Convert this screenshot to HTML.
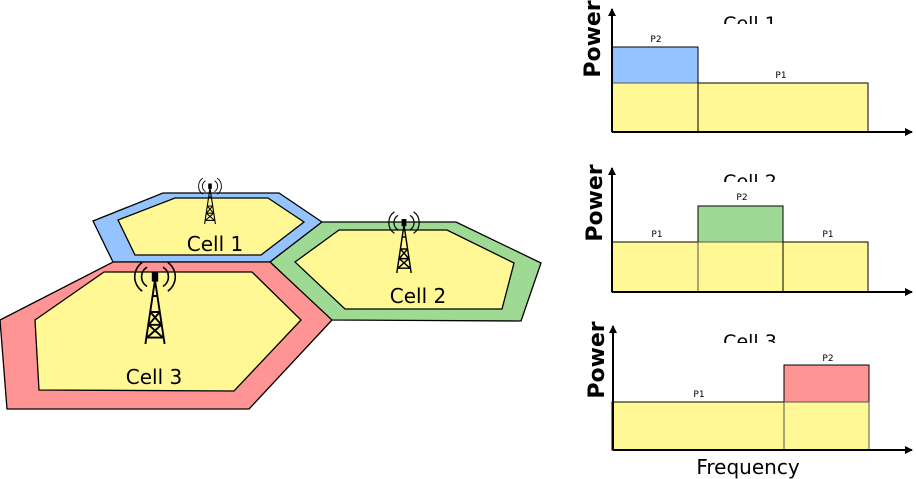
<!DOCTYPE html><html><head><style>body{margin:0;background:#fff}svg{display:block}text{font-family:"DejaVu Sans","Liberation Sans",sans-serif}</style></head><body>
<svg width="916" height="479" viewBox="0 0 916 479" xmlns="http://www.w3.org/2000/svg">
<defs>
<marker id="ar" markerWidth="8" markerHeight="8" refX="7" refY="4" orient="auto" markerUnits="userSpaceOnUse"><path d="M0,0L8,4L0,8z" fill="#000"/></marker>
<g id="tw">
<path d="M-6,40 L0,0 L6,40 M-3,20 L3,20 M-4,28 L4,28 M-5,36 L5,36 M-2,10 L2,10 M-3,20 L4,28 M3,20 L-4,28 M-4,28 L5,36 M4,28 L-5,36" stroke="#000" stroke-width="1.2" fill="none"/>
<rect x="-2" y="-5" width="4" height="6" fill="#000"/>
<path d="M-5,-8 A7,7 0 0,0 -5,4 M5,-8 A7,7 0 0,1 5,4 M-8,-11 A11,11 0 0,0 -8,7 M8,-11 A11,11 0 0,1 8,7" stroke="#000" stroke-width="1" fill="none"/>
</g>
</defs>
<g stroke="#000" stroke-width="1.3">
<polygon points="93,221 163,193 279,193 322,222 270,262 113,262" fill="#94c3ff"/>
<polygon points="118,220 175,198 268,198 304,222 261,255 135,255" fill="#fff894"/>
<polygon points="270,262 322,222 456,222 541,263 521,321 331,320" fill="#9fda94"/>
<polygon points="295,262 339,230 447,230 514,263 502,309 345,309" fill="#fff894"/>
<polygon points="0,320 113,262 270,262 332,320 249,409 7,409" fill="#ff9494"/>
<polygon points="35,320 104,272 252,272 301,320 234,391 39,390" fill="#fff894"/>
</g>
<use href="#tw" transform="translate(210,188) scale(0.9)"/>
<use href="#tw" transform="translate(404,225) scale(1.2)"/>
<use href="#tw" transform="translate(155,280) scale(1.6)"/>
<text x="215" y="251" font-size="20" text-anchor="middle">Cell 1</text>
<text x="418" y="303" font-size="20" text-anchor="middle">Cell 2</text>
<text x="154" y="384" font-size="20" text-anchor="middle">Cell 3</text>
<text x="750" y="30" font-size="19" text-anchor="middle">Cell 1</text>
<text x="750" y="188" font-size="19" text-anchor="middle">Cell 2</text>
<text x="750" y="348" font-size="19" text-anchor="middle">Cell 3</text>
<rect x="700" y="24" width="110" height="20" fill="#fff"/>
<rect x="700" y="182" width="110" height="20" fill="#fff"/>
<rect x="700" y="343" width="110" height="18" fill="#fff"/>
<g stroke="#000" stroke-width="1">
<rect x="612" y="47" width="86" height="36" fill="#94c3ff"/>
<rect x="612" y="83" width="86" height="49" fill="#fff894" stroke="#555"/>
<rect x="698" y="83" width="170" height="49" fill="#fff894"/>
<rect x="698" y="206" width="85" height="36" fill="#9fda94"/>
<rect x="612" y="242" width="86" height="50" fill="#fff894"/>
<rect x="698" y="242" width="85" height="50" fill="#fff894" stroke="#555"/>
<rect x="783" y="242" width="85" height="50" fill="#fff894"/>
<rect x="784" y="365" width="85" height="37" fill="#ff9494"/>
<rect x="612" y="402" width="172" height="48" fill="#fff894"/>
<rect x="784" y="402" width="85" height="48" fill="#fff894" stroke="#555"/>
</g>
<g stroke="#000" stroke-width="2" fill="none">
<path d="M612,132 L612,9" marker-end="url(#ar)"/><path d="M612,132 L912,132" marker-end="url(#ar)"/>
<path d="M612,292 L612,168" marker-end="url(#ar)"/><path d="M612,292 L912,292" marker-end="url(#ar)"/>
<path d="M613,450 L613,326" marker-end="url(#ar)"/><path d="M613,450 L912,450" marker-end="url(#ar)"/>
</g>
<g font-size="9" text-anchor="middle">
<text x="656" y="42">P2</text><text x="781" y="78">P1</text>
<text x="742" y="200">P2</text><text x="657" y="237">P1</text><text x="828" y="237">P1</text>
<text x="828" y="361">P2</text><text x="699" y="397">P1</text>
</g>
<g font-size="22" font-weight="bold" text-anchor="middle">
<text transform="translate(600,39) rotate(-90)">Power</text>
<text transform="translate(602,203) rotate(-90)">Power</text>
<text transform="translate(604,360) rotate(-90)">Power</text>
</g>
<text x="748" y="474" font-size="20" text-anchor="middle">Frequency</text>
</svg>
</body></html>
